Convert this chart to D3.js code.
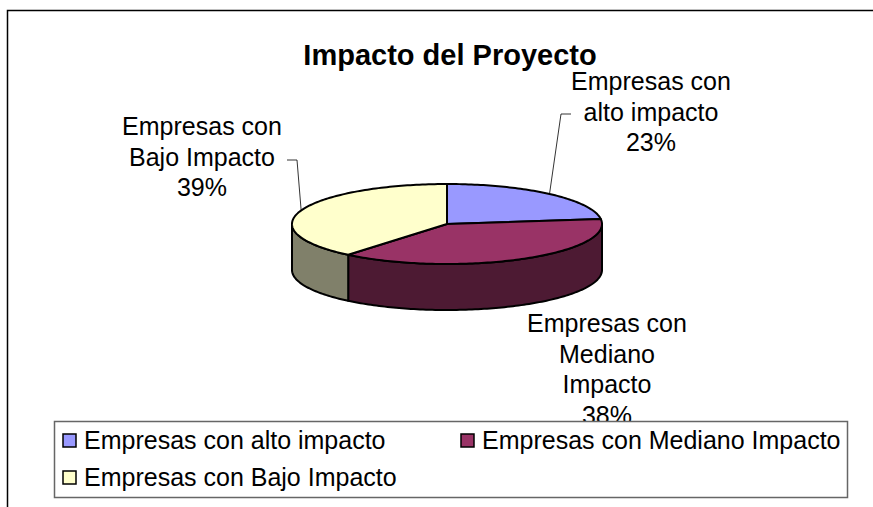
<!DOCTYPE html>
<html>
<head>
<meta charset="utf-8">
<script src="https://cdn.jsdelivr.net/npm/d3@7"></script>
<style>
  body { margin: 0; background: #fff; }
  svg { display: block; font-family: "Liberation Sans", Arial, sans-serif; }
</style>
</head>
<body>
<svg id="chart" width="873" height="507"></svg>
<script>
'use strict'

// data
const categories = ['Empresas con alto impacto', 'Empresas con Mediano Impacto', 'Empresas con Bajo Impacto']
const shares = [23, 38, 39]
const labelLines = [
  ['Empresas con', 'alto impacto'],
  ['Empresas con', 'Mediano', 'Impacto'],
  ['Empresas con', 'Bajo Impacto']
]
const topColors = ['#9999FF', '#993366', '#FFFFCC']
const sideColors = ['#4D4D80', '#4D1A33', '#80806A']
const title = 'Impacto del Proyecto'

const svg = d3.select('#chart')

// outer chart border (right and bottom are off screen)
svg.append('path')
  .attr('d', 'M7.5,507 V10.5 H880')
  .attr('fill', 'none')
  .attr('stroke', '#000')
  .attr('stroke-width', 1.5)

svg.append('text')
  .attr('x', 450)
  .attr('y', 65)
  .attr('text-anchor', 'middle')
  .style('font-weight', 'bold')
  .style('font-size', '29px')
  .text(title)

// 3d pie geometry
const cx = 447, cy = 224, rx = 155, ry = 40, depth = 46
const pie = d3.pie().sort(null).value(d => d)
const slices = pie(shares)

// angle measured clockwise from 12 o'clock, like d3.pie
const pt = (a, dy = 0) => [cx + rx * Math.sin(a), cy - ry * Math.cos(a) + dy]
const arcPts = (a0, a1, dy) => {
  const n = Math.max(2, Math.ceil((a1 - a0) / 0.02))
  return d3.range(n + 1).map(i => pt(a0 + (a1 - a0) * i / n, dy))
}
const line = d3.line()

const pieG = svg.append('g')

// sides: only the front half (PI/2 .. 3PI/2) is visible
slices.forEach((s, i) => {
  const a0 = Math.max(s.startAngle, Math.PI / 2)
  const a1 = Math.min(s.endAngle, 3 * Math.PI / 2)
  if (a0 >= a1) return
  const pts = arcPts(a0, a1, 0).concat(arcPts(a0, a1, depth).reverse())
  pieG.append('path')
    .attr('d', line(pts) + 'Z')
    .attr('fill', sideColors[i])
    .attr('stroke', '#000')
    .attr('stroke-width', 2)
    .attr('stroke-linejoin', 'round')
})

// top faces
slices.forEach((s, i) => {
  const pts = [[cx, cy]].concat(arcPts(s.startAngle, s.endAngle, 0))
  pieG.append('path')
    .attr('d', line(pts) + 'Z')
    .attr('fill', topColors[i])
    .attr('stroke', '#000')
    .attr('stroke-width', 2)
    .attr('stroke-linejoin', 'round')
})

// data labels
const labelPos = [
  { x: 651, y: 90, leader: [[561, 114], [571, 114]] },
  { x: 607, y: 332, leader: null },
  { x: 202, y: 135, leader: [[297, 160], [287, 160]] }
]
const lineGap = 30.7

slices.forEach((s, i) => {
  const lp = labelPos[i]
  if (lp.leader) {
    const mid = (s.startAngle + s.endAngle) / 2
    svg.append('path')
      .attr('d', line([pt(mid)].concat(lp.leader)))
      .attr('fill', 'none')
      .attr('stroke', '#000')
      .attr('stroke-width', 0.8)
  }
  const lines = labelLines[i].concat([d3.format('.0f')(s.data) + '%'])
  const t = svg.append('text')
    .attr('text-anchor', 'middle')
    .style('font-size', '25px')
  lines.forEach((l, j) => {
    t.append('tspan').attr('x', lp.x).attr('y', lp.y + j * lineGap).text(l)
  })
})

// legend (drawn over the bottom label, as in the original)
const legend = svg.append('g')
legend.append('rect')
  .attr('x', 54.5).attr('y', 421.5)
  .attr('width', 793).attr('height', 76)
  .attr('fill', '#fff')
  .attr('stroke', '#666')
  .attr('stroke-width', 1.5)

const legendPos = [[63, 434], [461, 434], [63, 471]]
categories.forEach((c, i) => {
  const [x, y] = legendPos[i]
  legend.append('rect')
    .attr('x', x).attr('y', y)
    .attr('width', 13).attr('height', 13)
    .attr('fill', topColors[i])
    .attr('stroke', '#000')
    .attr('stroke-width', 1.5)
  legend.append('text')
    .attr('x', x + 21).attr('y', y + 14.5)
    .style('font-size', '25px')
    .text(c)
})
</script>
</body>
</html>
